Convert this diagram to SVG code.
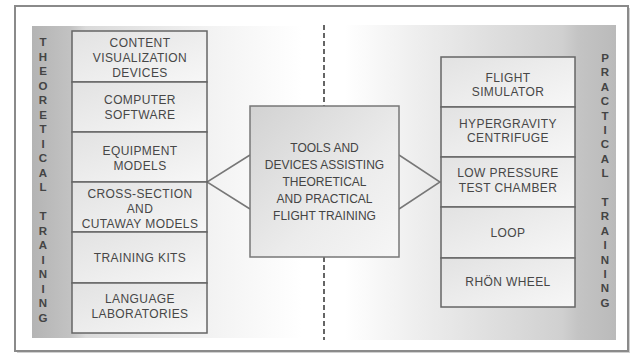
<svg xmlns="http://www.w3.org/2000/svg" width="632" height="357" viewBox="0 0 632 357">
<defs>
<linearGradient id="lp" x1="0" y1="0" x2="1" y2="0">
<stop offset="0" stop-color="#b4b4b4"/>
<stop offset="0.14" stop-color="#c2c2c2"/>
<stop offset="0.2" stop-color="#dadada"/>
<stop offset="0.65" stop-color="#f2f2f2"/>
<stop offset="1" stop-color="#ffffff"/>
</linearGradient>
<linearGradient id="rp" x1="0" y1="0" x2="1" y2="0">
<stop offset="0" stop-color="#ffffff"/>
<stop offset="0.3" stop-color="#ececec"/>
<stop offset="0.8" stop-color="#d0d0d0"/>
<stop offset="0.86" stop-color="#c4c4c4"/>
<stop offset="1" stop-color="#bababa"/>
</linearGradient>
<linearGradient id="bx" x1="0" y1="0" x2="1" y2="1">
<stop offset="0" stop-color="#e2e2e2"/>
<stop offset="1" stop-color="#f7f7f7"/>
</linearGradient>
<linearGradient id="cb" x1="0" y1="0" x2="1" y2="1">
<stop offset="0" stop-color="#d2d2d2"/>
<stop offset="0.6" stop-color="#ececec"/>
<stop offset="1" stop-color="#f6f6f6"/>
</linearGradient>
</defs>
<style>
.frame{fill:#ffffff;stroke:#8a8a8a;stroke-width:2}
.box{fill:url(#bx);stroke:#666;stroke-width:1.5}
.cbox{fill:url(#cb);stroke:#777;stroke-width:1.5}
.t{font-family:"Liberation Sans",Arial,sans-serif;font-size:12px;fill:#474747;text-anchor:middle;letter-spacing:0.4px}
.ct{font-family:"Liberation Sans",Arial,sans-serif;font-size:12px;fill:#444;text-anchor:middle}
.v{font-family:"Liberation Sans",Arial,sans-serif;font-size:11.5px;font-weight:bold;fill:#444;text-anchor:middle}
.conn{fill:none;stroke:#777;stroke-width:1.5}
.dash{fill:none;stroke:#333;stroke-width:1.5;stroke-dasharray:5 3}
</style>
<rect x="17" y="8" width="613" height="345" fill="#d0d0d0"/>
<rect class="frame" x="15" y="6" width="613" height="345"/>
<rect x="32" y="26" width="270" height="312" fill="url(#lp)"/>
<rect x="345" y="25" width="271" height="315" fill="url(#rp)"/>
<g id="connectors">
<line class="dash" x1="324" y1="25" x2="324" y2="106"/>
<line class="dash" x1="324" y1="257" x2="324" y2="340"/>
<polyline class="conn" points="250,155 207,182 250,209"/>
<polyline class="conn" points="399,155 440,182 399,209"/>
</g>
<g id="theoretical-label">
<text class="v" x="43" y="46">T</text>
<text class="v" x="43" y="60.5">H</text>
<text class="v" x="43" y="75">E</text>
<text class="v" x="43" y="89.5">O</text>
<text class="v" x="43" y="104">R</text>
<text class="v" x="43" y="118.5">E</text>
<text class="v" x="43" y="133">T</text>
<text class="v" x="43" y="147.5">I</text>
<text class="v" x="43" y="162">C</text>
<text class="v" x="43" y="176.5">A</text>
<text class="v" x="43" y="191">L</text>
<text class="v" x="43" y="220">T</text>
<text class="v" x="43" y="234.5">R</text>
<text class="v" x="43" y="249">A</text>
<text class="v" x="43" y="263.5">I</text>
<text class="v" x="43" y="278">N</text>
<text class="v" x="43" y="292.5">I</text>
<text class="v" x="43" y="307">N</text>
<text class="v" x="43" y="321.5">G</text>
</g>
<g id="practical-label">
<text class="v" x="605" y="62">P</text>
<text class="v" x="605" y="76.4">R</text>
<text class="v" x="605" y="90.8">A</text>
<text class="v" x="605" y="105.2">C</text>
<text class="v" x="605" y="119.6">T</text>
<text class="v" x="605" y="134">I</text>
<text class="v" x="605" y="148.4">C</text>
<text class="v" x="605" y="162.8">A</text>
<text class="v" x="605" y="177.2">L</text>
<text class="v" x="605" y="206">T</text>
<text class="v" x="605" y="220.4">R</text>
<text class="v" x="605" y="234.8">A</text>
<text class="v" x="605" y="249.2">I</text>
<text class="v" x="605" y="263.6">N</text>
<text class="v" x="605" y="278">I</text>
<text class="v" x="605" y="292.4">N</text>
<text class="v" x="605" y="306.8">G</text>
</g>
<g id="content-visualization-devices">
<rect class="box" x="72" y="31" width="135" height="51"/>
<text class="t" x="140" y="47">CONTENT</text>
<text class="t" x="140" y="62">VISUALIZATION</text>
<text class="t" x="140" y="77">DEVICES</text>
</g>
<g id="computer-software">
<rect class="box" x="72" y="82" width="135" height="50"/>
<text class="t" x="140" y="104">COMPUTER</text>
<text class="t" x="140" y="119">SOFTWARE</text>
</g>
<g id="equipment-models">
<rect class="box" x="72" y="132" width="135" height="50"/>
<text class="t" x="140" y="155">EQUIPMENT</text>
<text class="t" x="140" y="170">MODELS</text>
</g>
<g id="cross-section">
<rect class="box" x="72" y="182" width="135" height="50"/>
<text class="t" x="140" y="198">CROSS-SECTION</text>
<text class="t" x="140" y="213">AND</text>
<text class="t" x="140" y="227.5">CUTAWAY MODELS</text>
</g>
<g id="training-kits">
<rect class="box" x="72" y="232" width="135" height="51"/>
<text class="t" x="140" y="262">TRAINING KITS</text>
</g>
<g id="language-laboratories">
<rect class="box" x="72" y="283" width="135" height="50"/>
<text class="t" x="140" y="303">LANGUAGE</text>
<text class="t" x="140" y="318">LABORATORIES</text>
</g>
<g id="center">
<rect class="cbox" x="250" y="106" width="149" height="151"/>
<text class="ct" x="324.5" y="152">TOOLS AND</text>
<text class="ct" x="324.5" y="169">DEVICES ASSISTING</text>
<text class="ct" x="324.5" y="186">THEORETICAL</text>
<text class="ct" x="324.5" y="203">AND PRACTICAL</text>
<text class="ct" x="324.5" y="220">FLIGHT TRAINING</text>
</g>
<g id="flight-simulator">
<rect class="box" x="441" y="57" width="134" height="50"/>
<text class="t" x="508" y="82">FLIGHT</text>
<text class="t" x="508" y="96">SIMULATOR</text>
</g>
<g id="hypergravity-centrifuge">
<rect class="box" x="441" y="107" width="134" height="50"/>
<text class="t" x="508" y="128">HYPERGRAVITY</text>
<text class="t" x="508" y="142">CENTRIFUGE</text>
</g>
<g id="low-pressure">
<rect class="box" x="441" y="157" width="134" height="50"/>
<text class="t" x="508" y="177">LOW PRESSURE</text>
<text class="t" x="508" y="192">TEST CHAMBER</text>
</g>
<g id="loop">
<rect class="box" x="441" y="207" width="134" height="51"/>
<text class="t" x="508" y="237">LOOP</text>
</g>
<g id="rhon-wheel">
<rect class="box" x="441" y="258" width="134" height="49"/>
<text class="t" x="508" y="286">RHÖN WHEEL</text>
</g>
</svg>
